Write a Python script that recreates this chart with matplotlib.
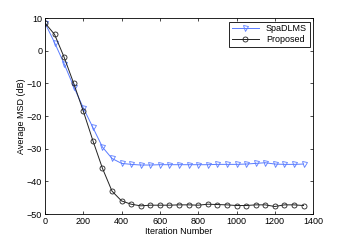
import numpy as np
import matplotlib
matplotlib.use('Agg')
import matplotlib.pyplot as plt

# iteration index of each marker
iters = np.arange(0, 1400, 50)

spadlms = [8.5, 2.5, -4.0, -11.0, -17.5, -23.5, -29.5, -33.0, -34.5, -34.8,
           -35.0, -35.0, -34.9, -34.9, -34.9, -34.9, -34.9, -34.9, -34.8, -34.8,
           -34.8, -34.7, -34.5, -34.3, -34.7, -34.8, -34.8, -34.7]
proposed = [8.5, 5.0, -2.0, -10.0, -18.5, -27.5, -36.0, -43.0, -46.0, -47.0,
            -47.5, -47.3, -47.3, -47.3, -47.2, -47.2, -47.3, -47.0, -47.1, -47.2,
            -47.4, -47.4, -47.2, -47.2, -47.7, -47.2, -47.2, -47.4]

plt.rcParams['font.family'] = ['Liberation Sans', 'DejaVu Sans']
plt.rcParams['font.size'] = 6.5

fig = plt.figure(figsize=(3.46, 2.41), dpi=100)
ax = fig.add_axes([0.130, 0.112, 0.775, 0.813])

ax.plot(iters, spadlms, color='#5a7cff', marker='v', markersize=3.6,
        markerfacecolor='none', linewidth=0.7, markeredgewidth=0.6, label='SpaDLMS')
ax.plot(iters, proposed, color='#222222', marker='o', markersize=3.6,
        markerfacecolor='none', linewidth=0.7, markeredgewidth=0.6, label='Proposed')

ax.set_xlim(0, 1400)
ax.set_ylim(-50, 10)
ax.set_xticks(np.arange(0, 1401, 200))
ax.set_yticks(np.arange(-50, 11, 10))
ax.tick_params(direction='in', top=True, right=True, length=2.5, width=0.5, pad=2)
for s in ax.spines.values():
    s.set_linewidth(0.6)

ax.set_xlabel('Iteration Number', labelpad=1)
ax.set_ylabel('Average MSD (dB)', labelpad=1)

leg = ax.legend(loc='upper right', fancybox=False, edgecolor='black',
                borderpad=0.3, handlelength=3.0, labelspacing=0.2,
                borderaxespad=0.4, framealpha=1)
leg.get_frame().set_linewidth(0.6)

fig.savefig('out.png', dpi=100)
